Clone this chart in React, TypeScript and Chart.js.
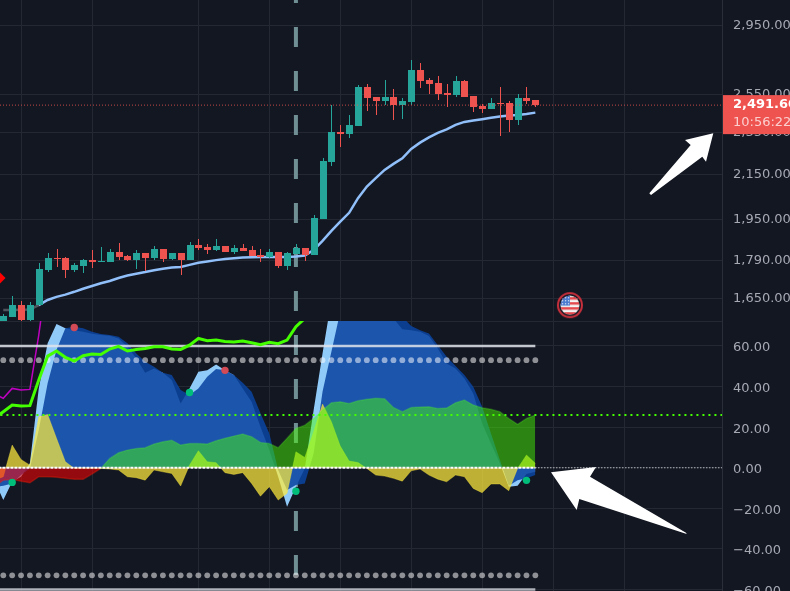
import React, { useEffect, useRef } from "react";
import { Chart, registerables } from "chart.js";

Chart.register(...registerables);

// ---- price pane (candle index 0..60) ----
const open = [1570,1586,1626,1575,1626,1753,1798,1798,1753,1768,1791,1784,1784,1821,1806,1791,1818,1798,1833,1795,1818,1791,1849,1841,1829,1845,1821,1837,1829,1810,1802,1821,1768,1814,1837,1810,1954,2207,2353,2343,2384,2591,2535,2514,2535,2492,2508,2686,2629,2612,2557,2546,2623,2541,2487,2471,2503,2503,2414,2530,2519];
const high = [1597,1658,1640,1637,1778,1818,1833,1802,1780,1795,1829,1841,1833,1856,1810,1829,1818,1845,1833,1818,1818,1861,1873,1853,1873,1845,1849,1853,1845,1833,1833,1821,1821,1853,1837,1970,2225,2492,2389,2440,2603,2608,2535,2629,2580,2530,2743,2726,2641,2652,2608,2652,2629,2541,2497,2530,2591,2514,2552,2591,2519];
const low = [1570,1586,1572,1572,1626,1746,1764,1723,1746,1742,1761,1784,1784,1791,1787,1757,1750,1791,1784,1791,1735,1791,1829,1814,1825,1821,1814,1825,1806,1784,1798,1761,1753,1814,1787,1810,1954,2188,2279,2323,2384,2461,2440,2492,2414,2419,2492,2585,2552,2519,2482,2535,2535,2456,2451,2471,2333,2353,2389,2497,2482];
const close = [1588,1626,1575,1628,1757,1798,1795,1753,1772,1791,1784,1787,1821,1802,1791,1818,1798,1833,1795,1818,1791,1849,1837,1829,1845,1821,1837,1825,1806,1802,1821,1768,1818,1837,1810,1958,2211,2353,2343,2389,2591,2530,2514,2535,2492,2514,2686,2623,2608,2552,2546,2623,2535,2482,2471,2503,2497,2414,2530,2514,2491.6];
const maLine = [1609,1609,1610,1611,1626,1644,1655,1663,1673,1684,1694,1704,1712,1723,1732,1739,1745,1752,1757,1762,1764,1772,1780,1785,1790,1794,1797,1800,1801,1802,1802,1802,1802,1804,1808,1829,1865,1905,1943,1980,2043,2094,2132,2170,2198,2224,2269,2300,2326,2348,2366,2389,2404,2411,2418,2425,2432,2437,2440,2445,2452];
const lastPrice = 2491.6;
const lastPriceLabel = "2,491.60";
const countdownLabel = "10:56:22";
const diamondPrice = 1723;
const flagIndex = 63.9;
const flagPrice = 1626;
const priceTicks = [2950, 2550, 2350, 2150, 1950, 1790, 1650];

// ---- oscillator pane (index -1..60) ----
const wt1 = [-6.1,-15.9,-6.9,-4.4,2.2,39.1,61.3,70.8,68.7,67.8,67,66,65.4,65,63.7,59.6,53.9,46.8,48.9,46.8,43.2,31.7,39.1,47.3,48.1,50.9,48.1,45.7,39.1,32.5,20.2,8.7,-4.4,-19.2,-9.3,-0.3,28.4,56.3,82.6,92.5,97.4,99,99,95.7,89.2,73.6,68.2,67.8,67,64.9,58.8,51.4,48.9,44,36.6,21.9,12,2.2,-9.3,-8.9,-3.1,-2];
const wt2 = [-9.3,-8.9,-7.7,-3.6,-0.3,18.6,41.6,58,68.7,69.5,68.7,67,65.9,65.4,64.6,61.3,56.3,52.2,49.8,46.8,45.7,38.3,35.8,39.1,44.8,48.6,48.1,45.7,41.9,37.5,26.8,16.9,-1.1,-11,-8.5,-7.7,7.1,37.5,57.2,76.9,82.6,87.5,89.2,89.2,85.9,79.3,74.4,69.8,67.8,66.2,60.4,54.7,50.1,45.7,39.9,30.1,16.9,3.8,-8.9,-6.1,-5.2,-3.6];
const moneyFlow = [-9.3,-6.1,-5.7,-6.6,-7.4,-4.4,-4.4,-4.7,-5.2,-5.7,-5.7,-3.1,-0.3,4.6,7.4,8.7,9.5,9.9,11.7,12.8,13.6,11.2,12,12,11.7,13.3,14.5,15.6,16.6,15.3,12.5,12,9.9,14.5,19.4,21,24.3,28.4,32,32.5,31.7,33,33.7,34.2,34,29.7,27.6,29.7,29.9,30.1,29.2,29.4,32,33.4,30.9,29.6,28.8,27.6,24.3,21.4,24.3,26];
const vwap = [-6.1,-4.4,11.2,4.1,1.3,25.1,26.3,14.5,3,-0.3,-0.3,-0.3,-0.3,-0.6,-1.1,-4.4,-4.9,-6.1,-1.1,-2,-2.8,-9,1.3,8.4,3,2.5,-2.4,-3.3,-2.4,-7.7,-14,-9.3,-15.9,-12.6,7.9,5.1,17.8,31.4,22.7,10.7,3.3,2.6,-0.3,-3.6,-4.1,-5.2,-6.6,-1.5,-0.6,-3.6,-5.6,-6.9,-3.6,-4.4,-10.2,-12.3,-8,-8,-11.3,-0.3,6.3,2.2];
const rsiLine = [24.3,27.6,30.9,30.4,30.6,43.2,55,57.5,54.4,52.6,55.2,56,55.8,58.5,59.8,57.5,58.3,58.8,59.6,59.6,58.5,58.3,60.4,63.7,62.6,62.9,62.2,61.9,62.4,61.6,60.6,61.8,61.1,62.9,69.5,73.6,82.6];
const stochLine = [36.6,34.2,39.1,38.3,38.6,65.4,97.4];
const buyIdx = [1, 21, 33, 59];
const buyVal = [-7.2, 37.1, -11.6, -6.2];
const sellIdx = [8, 25];
const sellVal = [69.1, 48];
const oscTicks = [60, 40, 20, 0, -20, -40, -60];
const obLevel = 53;
const midLevel = 26;
const fullLevel = 60;
const eventIndex = 33;
const gridIdx = [2, 10, 22, 30, 38, 46, 54, 62, 70];

// ---- styling constants ----
const BG = "#131722";
const GRID = "#242833";
const AXIS = "#2a2e39";
const UP = "#26a69a";
const DOWN = "#ef5350";
const TXT = "#a6a9b2";
const FONT = "'DejaVu Sans'";

const XMIN = -0.372;
const XMAX = 81.05;
const LAST = 60;

function seq(vals: number[], start: number) {
  return vals.map((y, i) => ({ x: i + start, y }));
}
function hline(y: number, a: number, b: number) {
  return [{ x: a, y }, { x: b, y }];
}
function fmtPrice(v: number) {
  return v.toLocaleString("en-US", { minimumFractionDigits: 2, maximumFractionDigits: 2 });
}
function fmtOsc(v: number) {
  return (v < 0 ? "\u2212" : "") + Math.abs(v).toFixed(2);
}
function noPad(s: any) {
  s.paddingTop = 0;
  s.paddingBottom = 0;
  s.paddingLeft = 0;
  s.paddingRight = 0;
}

function makeFlag() {
  const c = document.createElement("canvas");
  c.width = 28;
  c.height = 28;
  const g = c.getContext("2d")!;
  g.translate(14, 14);
  g.beginPath();
  g.arc(0, 0, 12, 0, Math.PI * 2);
  g.strokeStyle = "#c9303c";
  g.lineWidth = 2;
  g.stroke();
  g.save();
  g.beginPath();
  g.arc(0, 0, 9.5, 0, Math.PI * 2);
  g.clip();
  g.fillStyle = "#f4f4f4";
  g.fillRect(-10, -10, 20, 20);
  g.fillStyle = "#e5484d";
  for (let i = 0; i < 4; i++) g.fillRect(-10, -8 + i * 5, 20, 2.5);
  g.fillStyle = "#4a7bd0";
  g.fillRect(-10, -10, 10, 10.5);
  g.fillStyle = "#dfe8fa";
  for (let r = 0; r < 3; r++) for (let q = 0; q < 3; q++) g.fillRect(-8 + q * 3, -8 + r * 3, 1.2, 1.2);
  g.restore();
  return c;
}

// Snap candle rectangles to whole pixels so they stay crisp.
const crispBarsPlugin = {
  id: "crispBars",
  afterDatasetsUpdate(chart: any) {
    chart.data.datasets.forEach((d: any, i: number) => {
      if (d.type !== "bar") return;
      chart.getDatasetMeta(i).data.forEach((el: any) => {
        el.x = Math.round(el.x) + 0.5;
        el.y = Math.round(el.y);
        el.base = Math.round(el.base);
      });
    });
  },
};

// Vertical time grid, placed by the x scale.
const timeGridPlugin = {
  id: "timeGrid",
  beforeDatasetsDraw(chart: any) {
    const g = chart.ctx;
    const xS = chart.scales.x;
    g.save();
    g.strokeStyle = GRID;
    g.lineWidth = 1;
    for (const v of gridIdx) {
      const px = Math.round(xS.getPixelForValue(v)) + 0.5;
      g.beginPath();
      g.moveTo(px, chart.chartArea.top);
      g.lineTo(px, chart.chartArea.bottom);
      g.stroke();
    }
    g.restore();
  },
};

const overlayPlugin = {
  id: "overlay",
  afterDraw(chart: any) {
    const g = chart.ctx;
    const yS = chart.scales.y;
    const tagMid = yS.getPixelForValue(lastPrice);
    // last-price tag
    g.save();
    g.fillStyle = DOWN;
    g.fillRect(723, tagMid - 10, 67, 39);
    g.textBaseline = "middle";
    g.textAlign = "left";
    g.font = `bold 13px ${FONT}`;
    g.fillStyle = "#ffffff";
    g.fillText(lastPriceLabel, 733, tagMid);
    g.font = `13px ${FONT}`;
    g.fillStyle = "rgba(255,255,255,0.72)";
    g.fillText(countdownLabel, 733, tagMid + 18);
    // annotation arrows
    const arrows = [
      [[649.3,193.3],[690.7,145],[685,140],[713.3,133.3],[706,161.7],[702.3,156.7],[651,195]],
      [[686.7,534],[579.3,499],[576.7,510],[551,472.3],[596,467],[590,476.7],[686,532.7]],
    ];
    g.fillStyle = "#ffffff";
    for (const a of arrows) {
      g.beginPath();
      a.forEach((p, i) => (i ? g.lineTo(p[0], p[1]) : g.moveTo(p[0], p[1])));
      g.closePath();
      g.fill();
    }
    g.restore();
  },
};

export default function App() {
  const ref = useRef<HTMLCanvasElement | null>(null);
  useEffect(() => {
    document.body.style.margin = "0";
    document.body.style.background = BG;
    const idx = open.map((_, i) => i);
    const colors = idx.map((i) => (close[i] >= open[i] ? UP : DOWN));
    const lineBase = { type: "line", pointRadius: 0, tension: 0, fill: false };

    const back: any[] = [
      { ...lineBase, yAxisID: "y2", clip: false, data: [{ x: eventIndex, y: 238.8 }, { x: eventIndex, y: -60.7 }], borderColor: "#6f8f95", borderWidth: 4, borderDash: [20, 24] },
      // price pane
      { ...lineBase, yAxisID: "y", data: seq(maLine, 0), borderWidth: 2.5, borderColor: "#90bff9",
        segment: { borderColor: (c: any) => (c.p0DataIndex < 4 ? "#50555d" : "#90bff9") } },
      { type: "bar", yAxisID: "y", grouped: false, barThickness: 1, inflateAmount: 0, data: idx.map((i) => ({ x: i, y: [low[i], high[i]] })), backgroundColor: colors },
      { type: "bar", yAxisID: "y", grouped: false, barThickness: 7, inflateAmount: 0, data: idx.map((i) => ({ x: i, y: [open[i], close[i]] })), backgroundColor: colors },
      { ...lineBase, yAxisID: "y", data: hline(lastPrice, XMIN, XMAX), borderColor: "rgba(239,83,80,0.8)", borderWidth: 1, borderDash: [1, 2] },
      { type: "scatter", yAxisID: "y", data: [{ x: XMIN, y: diamondPrice }], pointStyle: "rectRot", pointRadius: 5.5, backgroundColor: "#ff0000", borderWidth: 0 },
      { type: "scatter", yAxisID: "y", data: [{ x: flagIndex, y: flagPrice }], pointStyle: makeFlag(), pointRadius: 14 },
      // oscillator pane
      { ...lineBase, yAxisID: "y2", data: seq(wt1, -1), borderWidth: 0, fill: { target: { value: 0 } }, backgroundColor: "#90caf9" },
      { ...lineBase, yAxisID: "y2", data: seq(wt2, -1), borderWidth: 0, fill: { target: { value: 0 } }, backgroundColor: "rgba(10,68,160,0.87)" },
      { ...lineBase, yAxisID: "y2", data: seq(vwap, -1), borderWidth: 1, borderColor: "rgba(255,235,59,0.35)", fill: { target: { value: 0 } }, backgroundColor: "rgba(255,235,59,0.72)" },
      { ...lineBase, yAxisID: "y2", data: seq(moneyFlow, -1), borderWidth: 1.5, borderColor: "rgba(90,255,40,0.22)",
        segment: { borderColor: (c: any) => (c.p1.parsed.y < 0 ? "rgba(255,30,0,0.35)" : "rgba(90,255,40,0.22)") },
        fill: { target: { value: 0 }, above: "rgba(72,255,0,0.47)", below: "rgba(255,0,0,0.55)" } },
      { ...lineBase, yAxisID: "y2", data: seq(stochLine, -1), borderColor: "#c000c0", borderWidth: 1.5 },
      { ...lineBase, yAxisID: "y2", data: hline(fullLevel, -1, LAST), borderColor: "rgba(225,228,235,0.85)", borderWidth: 2.5 },
      { ...lineBase, yAxisID: "y2", data: hline(-fullLevel, -1, LAST), borderColor: "rgba(190,193,200,0.9)", borderWidth: 2.5 },
      { type: "scatter", yAxisID: "y2", data: idx.map((x) => ({ x, y: obLevel })), pointRadius: 2.9, backgroundColor: "rgba(255,255,255,0.52)", borderWidth: 0 },
      { type: "scatter", yAxisID: "y2", data: idx.map((x) => ({ x, y: -obLevel })), pointRadius: 2.9, backgroundColor: "rgba(255,255,255,0.52)", borderWidth: 0 },
      { ...lineBase, yAxisID: "y2", data: seq(rsiLine, -1), borderColor: "#44ff00", borderWidth: 3 },
      { ...lineBase, yAxisID: "y2", data: hline(midLevel, -1, XMAX), borderColor: "#44ff00", borderWidth: 2, borderDash: [2, 4] },
      { ...lineBase, yAxisID: "y2", data: hline(0, -1, LAST), borderColor: "#ffffff", borderWidth: 2, borderDash: [3, 1] },
      { ...lineBase, yAxisID: "y2", data: hline(0, LAST, XMAX), borderColor: "#ffffff", borderWidth: 1, borderDash: [1, 2] },
      { type: "scatter", yAxisID: "y2", data: buyIdx.map((x, i) => ({ x, y: buyVal[i] })), pointRadius: 3.7, backgroundColor: "#00bd7a", borderWidth: 0 },
      { type: "scatter", yAxisID: "y2", data: sellIdx.map((x, i) => ({ x, y: sellVal[i] })), pointRadius: 3.7, backgroundColor: "#d24a56", borderWidth: 0 },
    ];
    const n = back.length;
    const datasets = back.map((d, i) => ({ ...d, xAxisID: "x", order: n - i }));

    const chart = new Chart(ref.current as HTMLCanvasElement, {
      type: "bar",
      data: { datasets } as any,
      plugins: [crispBarsPlugin, timeGridPlugin, overlayPlugin],
      options: {
        responsive: false,
        animation: false,
        events: [],
        layout: { padding: 0, autoPadding: false },
        plugins: { legend: { display: false }, tooltip: { enabled: false } },
        scales: {
          x: {
            type: "linear",
            min: XMIN,
            max: XMAX,
            offset: false,
            position: "bottom",
            grid: { display: false, drawTicks: false },
            border: { display: false },
            ticks: { display: false },
            afterFit: (s: any) => { s.height = 0; noPad(s); },
          },
          y: {
            type: "logarithmic",
            position: "right",
            stack: "panes",
            stackWeight: 321,
            weight: 1,
            min: 1572,
            max: 3118,
            grid: { color: GRID, drawTicks: false },
            border: { color: AXIS },
            ticks: { autoSkip: false, padding: 11, crossAlign: "near", color: TXT, font: { family: FONT, size: 13 }, callback: (v: any) => fmtPrice(Number(v)) },
            afterBuildTicks: (s: any) => { s.ticks = priceTicks.map((value) => ({ value })); },
            afterFit: (s: any) => { s.width = 68; noPad(s); },
          },
          y2: {
            type: "linear",
            position: "right",
            stack: "panes",
            stackWeight: 270,
            weight: 2,
            min: -60.7,
            max: 72.3,
            grid: { color: GRID, drawTicks: false },
            border: { color: AXIS },
            ticks: { autoSkip: false, padding: 11, labelOffset: 2, crossAlign: "near", color: TXT, font: { family: FONT, size: 13 }, callback: (v: any) => (Number(v) > 70 ? "" : fmtOsc(Number(v))) },
            afterBuildTicks: (s: any) => { s.ticks = [72.3, ...oscTicks].map((value) => ({ value })); },
            afterFit: (s: any) => { s.width = 68; noPad(s); },
          },
        },
      } as any,
    });
    return () => chart.destroy();
  }, []);
  return (
    <canvas ref={ref} width={790} height={591} style={{ display: "block", width: 790, height: 591, background: BG }} />
  );
}
